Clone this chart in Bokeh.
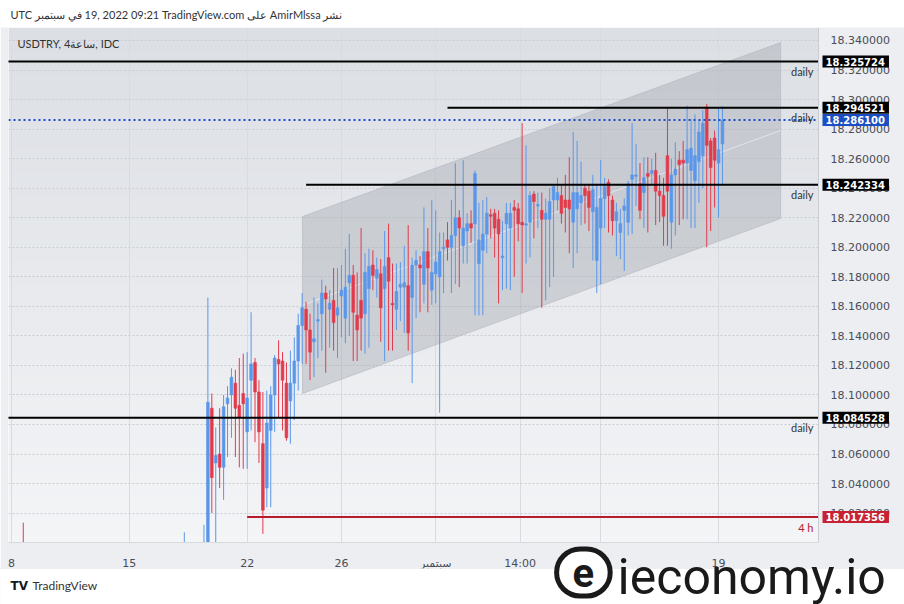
import numpy as np
from bokeh.plotting import figure
from bokeh.layouts import column
from bokeh.models import (Range1d, FixedTicker, PrintfTickFormatter, Label,
                          ColumnDataSource, BoxAnnotation, Span)
from bokeh.embed import file_html
from bokeh.resources import INLINE

# ---------------- data ----------------
# 4h bar number (6 bars per trading day, 0 = Aug 8 00:00)
bar = [3, 44, 49] + list(range(50, 182))
opens = [17.990, 17.960, 17.960,
         17.990, 18.091, 18.054, 18.060, 18.051, 18.094, 18.100, 18.108, 18.093, 18.101,
         18.075, 18.110, 18.122, 18.102, 18.067, 18.037, 18.076, 18.100, 18.124, 18.123,
         18.108, 18.096, 18.108, 18.123, 18.147, 18.158, 18.144, 18.136, 18.150, 18.155,
         18.169, 18.158, 18.164, 18.154, 18.167, 18.152, 18.176, 18.181, 18.154, 18.164,
         18.155, 18.172, 18.188, 18.179, 18.182, 18.172, 18.193, 18.162, 18.158, 18.173,
         18.173, 18.174, 18.166, 18.188, 18.188, 18.175, 18.197, 18.171, 18.182, 18.180,
         18.199, 18.205, 18.200, 18.208, 18.220, 18.201, 18.211, 18.216, 18.216, 18.189,
         18.198, 18.209, 18.222, 18.223, 18.219, 18.193, 18.216, 18.213, 18.227, 18.226,
         18.217, 18.215, 18.217, 18.236, 18.228, 18.225, 18.219, 18.219, 18.232, 18.232,
         18.235, 18.232, 18.232, 18.217, 18.226, 18.230, 18.240, 18.238, 18.224, 18.191,
         18.213, 18.233, 18.244, 18.232, 18.218, 18.210, 18.225, 18.217, 18.246, 18.248,
         18.243, 18.237, 18.250, 18.250, 18.252, 18.238, 18.235, 18.262, 18.217, 18.249,
         18.259, 18.259, 18.257, 18.252, 18.245, 18.258, 18.262, 18.295, 18.272, 18.274,
         18.257, 18.270]
highs = [18.0135, 18.007, 18.012,
         18.166, 18.101, 18.078, 18.091, 18.100, 18.106, 18.118, 18.117, 18.125, 18.128,
         18.129, 18.156, 18.125, 18.110, 18.102, 18.103, 18.106, 18.127, 18.137, 18.129,
         18.122, 18.130, 18.139, 18.155, 18.169, 18.163, 18.155, 18.166, 18.162, 18.178,
         18.174, 18.171, 18.186, 18.186, 18.188, 18.199, 18.209, 18.188, 18.183, 18.213,
         18.196, 18.199, 18.198, 18.193, 18.192, 18.211, 18.216, 18.189, 18.189, 18.190,
         18.201, 18.215, 18.193, 18.198, 18.194, 18.227, 18.213, 18.232, 18.225, 18.210,
         18.210, 18.217, 18.232, 18.257, 18.225, 18.259, 18.223, 18.225, 18.252, 18.230,
         18.232, 18.234, 18.226, 18.226, 18.225, 18.218, 18.230, 18.230, 18.232, 18.230,
         18.284, 18.269, 18.238, 18.238, 18.237, 18.237, 18.233, 18.240, 18.242, 18.247,
         18.242, 18.249, 18.261, 18.278, 18.272, 18.258, 18.242, 18.242, 18.249, 18.243,
         18.259, 18.247, 18.246, 18.235, 18.230, 18.226, 18.233, 18.245, 18.284, 18.270,
         18.257, 18.261, 18.261, 18.260, 18.264, 18.249, 18.247, 18.294, 18.260, 18.271,
         18.265, 18.272, 18.296, 18.287, 18.290, 18.286, 18.293, 18.297, 18.274, 18.279,
         18.295, 18.2955]
lows = [17.960, 17.950, 17.940,
        17.975, 18.020, 17.990, 18.037, 18.029, 18.058, 18.071, 18.058, 18.051, 18.050,
        18.050, 18.076, 18.068, 18.054, 18.006, 18.024, 18.024, 18.075, 18.085, 18.076,
        18.069, 18.067, 18.083, 18.103, 18.121, 18.121, 18.110, 18.112, 18.125, 18.130,
        18.115, 18.132, 18.130, 18.125, 18.139, 18.135, 18.140, 18.123, 18.123, 18.130,
        18.128, 18.132, 18.171, 18.166, 18.136, 18.123, 18.130, 18.130, 18.144, 18.150,
        18.142, 18.130, 18.108, 18.152, 18.156, 18.162, 18.156, 18.161, 18.162, 18.088,
        18.169, 18.191, 18.169, 18.175, 18.173, 18.189, 18.189, 18.203, 18.154, 18.154,
        18.154, 18.196, 18.206, 18.193, 18.162, 18.171, 18.172, 18.171, 18.180, 18.204,
        18.169, 18.189, 18.193, 18.206, 18.213, 18.159, 18.164, 18.173, 18.180, 18.225,
        18.216, 18.210, 18.196, 18.186, 18.196, 18.215, 18.216, 18.211, 18.191, 18.169,
        18.175, 18.213, 18.210, 18.208, 18.194, 18.192, 18.184, 18.208, 18.209, 18.228,
        18.219, 18.213, 18.210, 18.243, 18.215, 18.217, 18.201, 18.201, 18.199, 18.208,
        18.215, 18.219, 18.219, 18.213, 18.213, 18.230, 18.240, 18.200, 18.211, 18.227,
        18.220, 18.243]
closes = [17.970, 17.985, 17.990,
          18.095, 18.044, 18.059, 18.051, 18.092, 18.098, 18.112, 18.091, 18.085, 18.094,
          18.098, 18.121, 18.102, 18.075, 18.022, 18.081, 18.100, 18.125, 18.121, 18.110,
          18.071, 18.108, 18.123, 18.147, 18.159, 18.144, 18.129, 18.138, 18.151, 18.169,
          18.165, 18.162, 18.149, 18.159, 18.171, 18.173, 18.181, 18.156, 18.144, 18.152,
          18.183, 18.187, 18.181, 18.185, 18.159, 18.187, 18.177, 18.161, 18.170, 18.175,
          18.176, 18.142, 18.188, 18.191, 18.186, 18.197, 18.186, 18.183, 18.190, 18.197,
          18.200, 18.200, 18.208, 18.220, 18.213, 18.213, 18.216, 18.213, 18.250, 18.205,
          18.209, 18.223, 18.221, 18.213, 18.209, 18.194, 18.223, 18.223, 18.225, 18.216,
          18.215, 18.216, 18.235, 18.231, 18.229, 18.219, 18.223, 18.231, 18.241, 18.237,
          18.223, 18.227, 18.226, 18.237, 18.237, 18.235, 18.235, 18.227, 18.239, 18.227,
          18.233, 18.241, 18.235, 18.218, 18.224, 18.216, 18.228, 18.243, 18.249, 18.249,
          18.225, 18.247, 18.248, 18.252, 18.238, 18.235, 18.221, 18.238, 18.249, 18.253,
          18.256, 18.257, 18.266, 18.267, 18.262, 18.278, 18.284, 18.269, 18.254, 18.259,
          18.266, 18.2861]

time_ticks = [0, 30, 60, 84, 108, 129.5, 150, 180]
time_labels = ["8", "15", "22", "26", "سبتمبر", "14:00", "12", "19"]
price_ticks = [18.34, 18.32, 18.30, 18.28, 18.26, 18.24, 18.22, 18.20, 18.18,
               18.16, 18.14, 18.12, 18.10, 18.08, 18.06, 18.04, 18.02]

level_price = [18.325724, 18.294521, 18.242334, 18.084528, 18.017356]
level_start = [-1, 111, 75, -1, 60]
level_tag = ["daily", "daily", "daily", "daily", "4 h"]
last_price = 18.286100

channel_x = [74.1, 195.8]
channel_upper = [18.2208, 18.3386]
channel_lower = [18.1010, 18.2195]

header = "UTC في سبتمبر\u200e 19, 2022 09:21 TradingView.com على AmirMlssa نشر"
legend_text = "USDTRY, 4ساعة, IDC"

# ---------------- style ----------------
UP, DOWN = "#5a97ea", "#e03b4c"
BLACK, RED, BLUE = "#000000", "#b71c2c", "#1b4ec2"
FONT = "Lato"
AXFONT = "DejaVu Sans"
TXT = "#4a4d57"

W, H = 904, 604
BL, BR, BT, BB = 8, 86, 27, 62
X0, X1 = -0.76, 205.45
Y0, Y1 = 18.0001, 18.3488
BPX = (W - BL - BR) / (X1 - X0)     # pixels per bar
PX = (H - BT - BB) / (Y1 - Y0)      # pixels per price unit

p = figure(width=W, height=H, x_range=Range1d(X0, X1), y_range=Range1d(Y0, Y1),
           y_axis_location="right", output_backend="svg", toolbar_location=None,
           min_border_left=BL, min_border_right=BR, min_border_top=BT, min_border_bottom=BB,
           border_fill_color="#eceef1", outline_line_color=None)
p.frame_align = False

# background gradient in the frame
N = 64
rows = np.linspace(0.0, 1.0, N)[:, None]
bot_c = np.array([244, 245, 247])
top_c = np.array([220, 223, 228])
rgb = (bot_c + (top_c - bot_c) * rows).astype(np.uint8)
img = np.empty((N, 1), dtype=np.uint32)
v = img.view(dtype=np.uint8).reshape((N, 1, 4))
v[:, 0, 0] = rgb[:, 0]
v[:, 0, 1] = rgb[:, 1]
v[:, 0, 2] = rgb[:, 2]
v[:, 0, 3] = 255
p.image_rgba(image=[img], x=X0, y=Y0, dw=X1 - X0, dh=Y1 - Y0, level="image")

# grid
p.xgrid.ticker = FixedTicker(ticks=time_ticks)
p.xgrid.grid_line_color = "#d8dbe0"
p.ygrid.ticker = FixedTicker(ticks=price_ticks)
p.ygrid.grid_line_color = "#c9ccd3"
p.ygrid.grid_line_dash = "2 2"

# axes
xa = p.xaxis[0]
xa.ticker = FixedTicker(ticks=time_ticks)
xa.major_label_overrides = {t: s for t, s in zip(time_ticks, time_labels)}
xa.major_tick_line_color = None
xa.minor_tick_line_color = None
xa.axis_line_color = "#d6d9de"
xa.major_label_standoff = 8
xa.major_label_text_font = AXFONT
xa.major_label_text_font_size = "11px"
xa.major_label_text_color = TXT

ya = p.yaxis[0]
ya.ticker = FixedTicker(ticks=price_ticks)
ya.formatter = PrintfTickFormatter(format="%.6f")
ya.major_tick_line_color = None
ya.minor_tick_line_color = None
ya.axis_line_color = "#c9ccd3"
ya.major_label_standoff = 6
ya.major_label_text_font = AXFONT
ya.major_label_text_font_size = "11px"
ya.major_label_text_color = TXT

# channel
p.patch(x=[channel_x[0], channel_x[1], channel_x[1], channel_x[0]],
        y=[channel_lower[0], channel_lower[1], channel_upper[1], channel_upper[0]],
        fill_color="#9fa3ac", fill_alpha=0.38, line_color="#b8bbc3", line_width=1, line_alpha=0.7)
mid = [(a + b) / 2 for a, b in zip(channel_upper, channel_lower)]
p.line(x=channel_x, y=mid, line_color="#f4f5f7", line_width=1, line_alpha=0.6)

# candles
src = ColumnDataSource(dict(
    x=bar, o=opens, h=highs, l=lows, c=closes,
    top=[max(a, b) for a, b in zip(opens, closes)],
    bot=[min(a, b) for a, b in zip(opens, closes)],
    color=[UP if c >= o else DOWN for o, c in zip(opens, closes)],
))
p.segment(x0="x", y0="l", x1="x", y1="h", line_color="color", line_width=1, source=src)
p.vbar(x="x", width=0.7, top="top", bottom="bot", fill_color="color",
       line_color="color", line_width=0.6, source=src)

# horizontal levels
lvl_colors = [BLACK, BLACK, BLACK, BLACK, RED]
p.segment(x0=level_start, y0=level_price, x1=[X1] * len(level_price), y1=level_price,
          line_color=lvl_colors, line_width=2)
p.add_layout(Span(location=last_price, dimension="width", line_color=BLUE,
                  line_width=2, line_dash="2 3"))

for price, tag in zip(level_price, level_tag):
    p.add_layout(Label(x=X1, y=price, x_offset=-5, y_offset=-10, text=tag,
                       text_align="right", text_baseline="middle",
                       text_font=FONT, text_font_size="11px",
                       text_color=RED if tag == "4 h" else "#333333"))
p.add_layout(Label(x=X0, y=Y1, x_offset=9, y_offset=-16, text=legend_text,
                   text_baseline="middle", text_font=FONT, text_font_size="11px",
                   text_color="#333333"))

# ---------- transparent overlay with the same scales, covering the whole canvas ----------
o = figure(width=W, height=H,
           x_range=Range1d(X0 - BL / BPX, X1 + BR / BPX),
           y_range=Range1d(Y0 - BB / PX, Y1 + BT / PX),
           x_axis_type=None, y_axis_type=None, output_backend="svg", toolbar_location=None,
           min_border=0, outline_line_color=None,
           background_fill_alpha=0.0, border_fill_alpha=0.0)
o.frame_align = False
o.grid.visible = False
o.styles = {"margin-top": "-%dpx" % H}

# white page areas above and below the chart
o.add_layout(BoxAnnotation(left=X0 - 40, right=X1 + 40, bottom=Y1, top=Y1 + 60 / PX,
                           fill_color="white", fill_alpha=1.0, line_color=None))
o.add_layout(BoxAnnotation(left=X0 - 40, right=X1 + 40, bottom=Y0 - 90 / PX,
                           top=Y0 - 26 / PX, fill_color="white", fill_alpha=1.0,
                           line_color="#d6d9de", line_width=1))

for price, col in zip(level_price + [last_price],
                      [BLACK, BLACK, BLACK, BLACK, "#c62234", BLUE]):
    o.add_layout(Label(x=X1, y=price, x_offset=4, text="%.6f" % price,
                       text_align="left", text_baseline="middle",
                       text_font=AXFONT, text_font_size="10px", text_font_style="bold",
                       text_color="white", background_fill_color=col,
                       background_fill_alpha=1.0, padding=dict(left=3, right=4, top=2, bottom=2)))

o.add_layout(Label(x=X0, y=Y1, x_offset=2, y_offset=13, text=header,
                   text_baseline="middle", text_font=FONT, text_font_size="11px",
                   text_color="#333333"))
o.add_layout(Label(x=X0, y=Y0, x_offset=2, y_offset=-43, text="TV",
                   text_baseline="middle", text_font=AXFONT, text_font_size="12px",
                   text_font_style="bold", text_color="#131722"))
o.add_layout(Label(x=X0, y=Y0, x_offset=24, y_offset=-43, text="TradingView",
                   text_baseline="middle", text_font=FONT, text_font_size="12px",
                   text_color="#333333"))
o.add_layout(Label(x=145.6, y=Y0, y_offset=-30, text="e", text_align="center",
                   text_baseline="middle", text_font="Roboto", text_font_size="40px",
                   text_font_style="bold", text_color="#1a1a1a",
                   background_fill_color="white", background_fill_alpha=1.0,
                   border_line_color="#1a1a1a", border_line_width=5,
                   border_radius=28, padding=dict(left=16, right=16, top=9, bottom=9)))
o.add_layout(Label(x=154.3, y=Y0, y_offset=-34, text="ieconomy.io",
                   text_align="left", text_baseline="middle", text_font="Roboto",
                   text_font_size="50px", text_color="#1a1a1a"))

layout = column(p, o, spacing=0)
open("out.html", "w").write(file_html(layout, INLINE))
